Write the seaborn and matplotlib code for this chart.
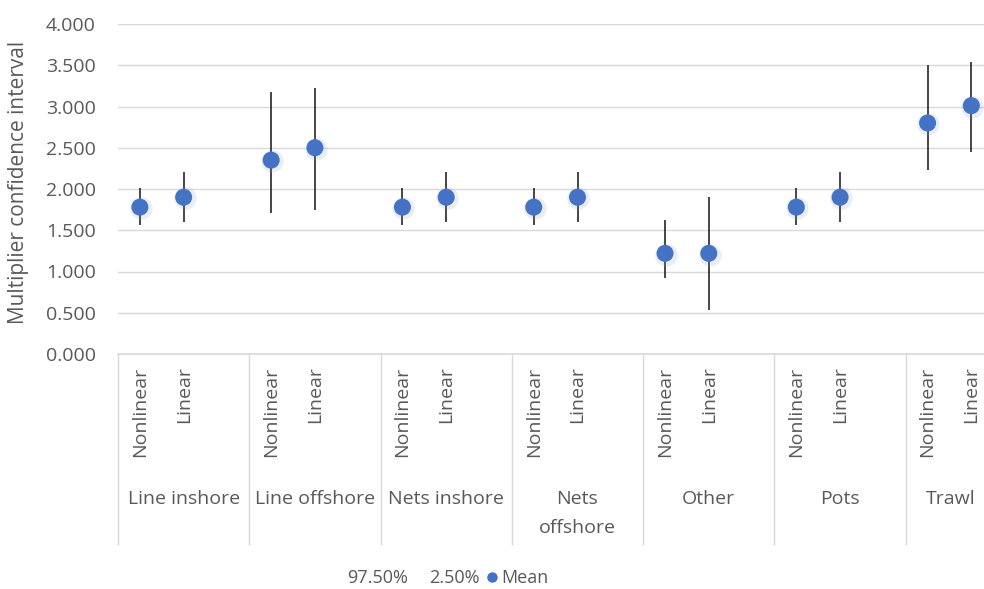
import numpy as np
import pandas as pd
import seaborn as sns
import matplotlib
matplotlib.use("Agg")
import matplotlib.pyplot as plt
from matplotlib.lines import Line2D
import matplotlib.transforms as mtransforms

# ---------------- data ----------------
categories = ["Line inshore", "Line offshore", "Nets inshore", "Nets offshore",
              "Other", "Pots", "Trawl"]
category_labels = ["Line inshore", "Line offshore", "Nets inshore", "Nets\noffshore",
                   "Other", "Pots", "Trawl"]
methods = ["Nonlinear", "Linear"]

mean_nonlinear = [1.78, 2.35, 1.78, 1.78, 1.22, 1.78, 2.80]
mean_linear    = [1.90, 2.50, 1.90, 1.90, 1.22, 1.90, 3.01]
upper_nonlinear = [2.01, 3.18, 2.01, 2.01, 1.63, 2.01, 3.50]   # 97.50%
upper_linear    = [2.21, 3.23, 2.21, 2.21, 1.90, 2.21, 3.54]
lower_nonlinear = [1.56, 1.71, 1.56, 1.56, 0.92, 1.56, 2.23]   # 2.50%
lower_linear    = [1.60, 1.75, 1.60, 1.60, 0.53, 1.60, 2.45]

yticks = [0.0, 0.5, 1.0, 1.5, 2.0, 2.5, 3.0, 3.5, 4.0]

# ---------------- build table ----------------
slots_per_group = 3  # Nonlinear, Linear, empty slot
rows = []
for gi, cat in enumerate(categories):
    for mi, (m, mean, hi, lo) in enumerate(zip(
            methods,
            [mean_nonlinear[gi], mean_linear[gi]],
            [upper_nonlinear[gi], upper_linear[gi]],
            [lower_nonlinear[gi], lower_linear[gi]])):
        rows.append(dict(category=cat, method=m, mean=mean, hi=hi, lo=lo,
                         pos=gi * slots_per_group + mi))
df = pd.DataFrame(rows)

# ---------------- style ----------------
sns.set_theme(style="white")
plt.rcParams['font.family'] = ['Open Sans', 'DejaVu Sans']
text_color = "#595959"
grid_color = "#d9d9d9"
blue = "#4472C4"
fs = 14

W, H = 984, 589
fig = plt.figure(figsize=(W / 100, H / 100), dpi=100)
ax_left, ax_right, ax_top, ax_bottom = 118, 984, 24, 354
ax = fig.add_axes([ax_left / W, 1 - ax_bottom / H,
                   (ax_right - ax_left) / W, (ax_bottom - ax_top) / H])

# error lines (2.5% - 97.5%)
ax.vlines(df["pos"], df["lo"], df["hi"], color="#262626", linewidth=1.2, zorder=3)

# soft shadow / halo
ax.scatter(df["pos"] + 0.02, df["mean"] - 0.015, s=260, color="#8f9db8",
           alpha=0.18, linewidths=0, zorder=3.5)
sns.scatterplot(data=df, x="pos", y="mean", ax=ax, s=150, color=blue,
                edgecolor="none", linewidth=0, zorder=4, legend=False)

ax.set_yticks(yticks)
ax.set_yticklabels([f"{v:.3f}" for v in yticks])
ax.yaxis.grid(True, color=grid_color, linewidth=1.0)
ax.set_axisbelow(True)
for s in ax.spines.values():
    s.set_visible(False)
ax.axhline(0, color=grid_color, linewidth=1.2, clip_on=False, zorder=1)

ax.tick_params(axis="y", length=0, pad=16, labelsize=fs, labelcolor=text_color)

# inner category ticks
ax.set_xticks(df["pos"])
ax.set_xticklabels(df["method"], rotation=90, va="top", ha="center")
ax.tick_params(axis="x", which="major", length=0, pad=9, labelsize=fs,
               labelcolor=text_color)
# group dividers
bounds = [gi * slots_per_group - 0.5 for gi in range(len(categories) + 1)]
ax.set_xticks(bounds, minor=True)
ax.tick_params(axis="x", which="minor", bottom=True, length=(545 - ax_bottom) * 0.72,
               width=1.0, color=grid_color, direction="out")

# axes limits: chart is cropped on the right in the reference
slot_px = (1037 - ax_left) / (len(categories) * slots_per_group)
ax.set_xlim(-0.5, -0.5 + (ax_right - ax_left) / slot_px)
ax.set_ylim(0, 4)

ax.set_xlabel("")
ax.set_ylabel("Multiplier confidence interval", fontsize=15, color=text_color,
              va="center")
ax.yaxis.set_label_coords((19 - ax_left) / (ax_right - ax_left), 0.52)

# group labels
trans = mtransforms.blended_transform_factory(ax.transData, ax.transAxes)
group_texts = []
for gi, lab in enumerate(category_labels):
    t = ax.text(gi * slots_per_group + 1.0, (ax_bottom - 490) / (ax_bottom - ax_top),
                lab, transform=trans, ha="center", va="top", fontsize=fs,
                color=text_color, linespacing=1.8, multialignment="center")
    group_texts.append(t)

# keep labels inside the (cropped) figure, as the reference does
fig.canvas.draw()
renderer = fig.canvas.get_renderer()
for t in group_texts:
    bb = t.get_window_extent(renderer)
    overflow = bb.x1 - (W - 8)
    if overflow > 0:
        x_disp = ax.transData.transform((t.get_position()[0], 0))[0] - overflow
        t.set_x(ax.transData.inverted().transform((x_disp, 0))[0])

# legend
handles = [Line2D([], [], linestyle="none"),
           Line2D([], [], linestyle="none"),
           Line2D([], [], linestyle="none", marker="o", markersize=6.5,
                  markerfacecolor=blue, markeredgecolor=blue)]
labels = ["97.50%", "2.50%", "Mean"]
leg = fig.legend(handles, labels, ncol=3, loc="center",
                 bbox_to_anchor=(441 / W, 1 - 578 / H), frameon=False,
                 fontsize=13, handlelength=0.5, handletextpad=0.25,
                 columnspacing=0.45)
for t in leg.get_texts():
    t.set_color(text_color)

fig.savefig("out.png", dpi=100)
